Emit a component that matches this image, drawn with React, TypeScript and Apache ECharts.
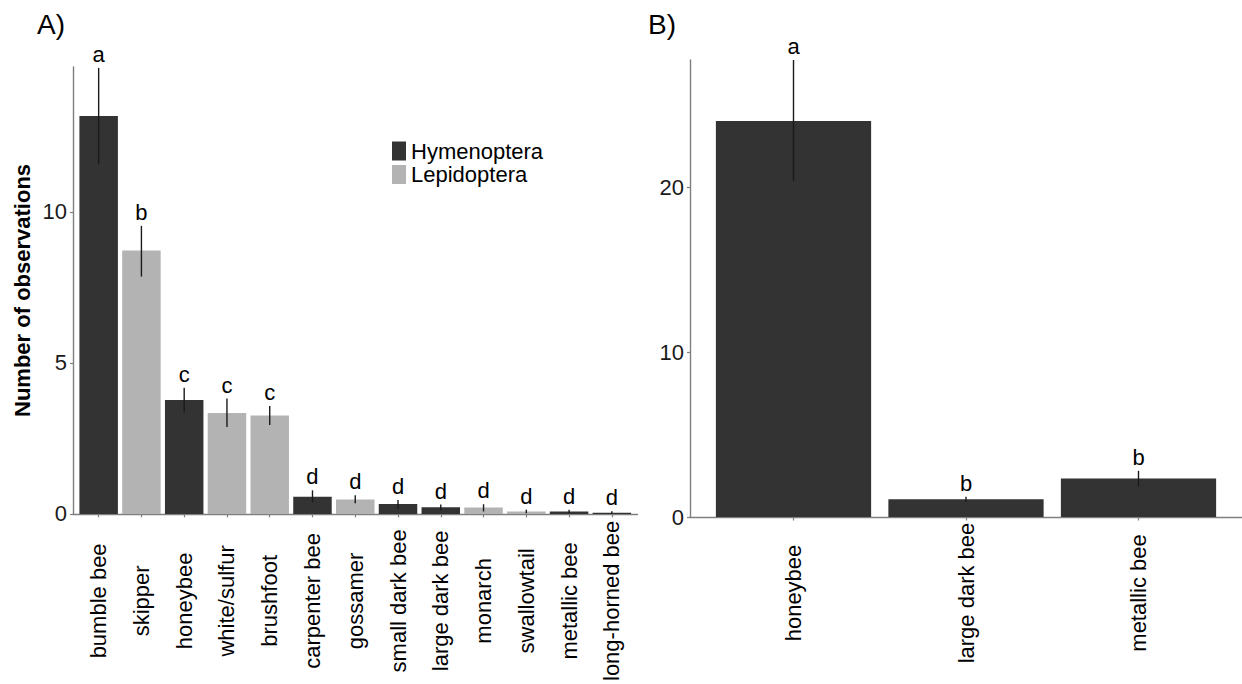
import React, { useEffect, useRef } from 'react';
import * as echarts from 'echarts';

const FONT = '"Liberation Sans", Arial, Helvetica, sans-serif';
const FS = 22;

// Panel A data
const categoriesA = ['bumble bee', 'skipper', 'honeybee', 'white/sulfur', 'brushfoot', 'carpenter bee', 'gossamer', 'small dark bee', 'large dark bee', 'monarch', 'swallowtail', 'metallic bee', 'long-horned bee'];
const orderA = ['Hymenoptera', 'Lepidoptera', 'Hymenoptera', 'Lepidoptera', 'Lepidoptera', 'Hymenoptera', 'Lepidoptera', 'Hymenoptera', 'Hymenoptera', 'Lepidoptera', 'Lepidoptera', 'Hymenoptera', 'Hymenoptera'];
const valuesA = [13.18, 8.72, 3.77, 3.34, 3.26, 0.57, 0.48, 0.33, 0.22, 0.21, 0.08, 0.08, 0.04];
const lowA = [11.58, 7.86, 3.36, 2.88, 2.94, 0.38, 0.35, 0.16, 0.11, 0.08, 0.02, 0.02, 0.0];
const highA = [14.77, 9.54, 4.18, 3.82, 3.57, 0.78, 0.62, 0.46, 0.31, 0.32, 0.14, 0.14, 0.09];
const lettersA = ['a', 'b', 'c', 'c', 'c', 'd', 'd', 'd', 'd', 'd', 'd', 'd', 'd'];
const yTicksA = [0, 5, 10];
const yMaxA = 14.8;

// Panel B data
const categoriesB = ['honeybee', 'large dark bee', 'metallic bee'];
const valuesB = [24.0, 1.08, 2.33];
const lowB = [20.36, 0.92, 1.85];
const highB = [27.7, 1.22, 2.8];
const lettersB = ['a', 'b', 'b'];
const yTicksB = [0, 10, 20];
const yMaxB = 27.7;

const groups = ['Hymenoptera', 'Lepidoptera'];
const DARK = '#333333';
const LIGHT = '#b3b3b3';
const AXIS = '#7f7f7f';

function makeErr(letters: string[]) {
  return (params: any, api: any) => {
    const x = api.value(0);
    const lo = api.value(1);
    const hi = api.value(2);
    const pLo = api.coord([x, lo]);
    const pHi = api.coord([x, hi]);
    return {
      type: 'group',
      children: [
        { type: 'line', shape: { x1: pLo[0], y1: pLo[1], x2: pHi[0], y2: pHi[1] }, style: { stroke: '#1a1a1a', lineWidth: 1.4 } },
        { type: 'text', x: pHi[0], y: pHi[1] - 13.5, style: { text: letters[params.dataIndex], fill: '#000', fontSize: FS, fontFamily: FONT, align: 'center', verticalAlign: 'middle' } },
      ],
    };
  };
}

function xAxisFor(gridIndex: number, cats: string[], margin: number) {
  const idx = cats.map((_, i) => i);
  return {
    type: 'value',
    gridIndex,
    min: -0.6,
    max: cats.length - 1 + 0.6,
    axisLine: { show: true, onZero: false, lineStyle: { color: AXIS, width: 1.4 } },
    axisTick: { show: true, length: 3.5, customValues: idx, lineStyle: { color: AXIS, width: 1.2 } },
    axisLabel: {
      customValues: idx,
      formatter: (v: number) => cats[Math.round(v)] ?? '',
      rotate: 90,
      align: 'center',
      verticalAlign: 'middle',
      margin,
      fontSize: FS,
      color: '#000',
      fontFamily: FONT,
    },
    splitLine: { show: false },
  };
}

function yAxisFor(gridIndex: number, max: number, ticks: number[], interval: number, name: string) {
  return {
    type: 'value',
    gridIndex,
    min: 0,
    max,
    interval,
    name,
    nameLocation: 'middle',
    nameGap: 40,
    nameRotate: 90,
    nameTextStyle: { fontWeight: 'bold', fontSize: FS, color: '#000', fontFamily: FONT },
    axisLine: { show: true, onZero: false, lineStyle: { color: AXIS, width: 1.4 } },
    axisTick: { show: true, length: 3, customValues: ticks, lineStyle: { color: AXIS, width: 1.2 } },
    axisLabel: { customValues: ticks, margin: 6, fontSize: FS, color: '#1a1a1a', fontFamily: FONT },
    splitLine: { show: false },
  };
}

export default function App() {
  const ref = useRef<HTMLDivElement>(null);
  useEffect(() => {
    if (!ref.current) return;
    const chart = echarts.init(ref.current, null, { renderer: 'svg' });
    const groupSeries = groups.map((g, gi) => ({
      name: g,
      type: 'bar',
      xAxisIndex: 0,
      yAxisIndex: 0,
      barWidth: '90%',
      barGap: '-100%',
      itemStyle: { color: gi === 0 ? DARK : LIGHT },
      data: categoriesA.map((_, i) => i).filter((i) => orderA[i] === g).map((i) => [i, valuesA[i]]),
      z: 2,
    }));
    chart.setOption({
      animation: false,
      textStyle: { fontFamily: FONT },
      grid: [
        { left: 73, top: 67, width: 564.5, height: 450, containLabel: false },
        { left: 690, top: 60, width: 553, height: 457, containLabel: false },
      ],
      legend: {
        data: groups,
        left: 392,
        top: 140,
        orient: 'vertical',
        icon: 'rect',
        itemWidth: 14,
        itemHeight: 19,
        itemGap: 1.5,
        padding: 0,
        selectedMode: false,
        textStyle: { fontSize: FS, color: '#000', fontFamily: FONT, lineHeight: 19 },
      },
      xAxis: [xAxisFor(0, categoriesA, 87), xAxisFor(1, categoriesB, 76)],
      yAxis: [
        yAxisFor(0, yMaxA, yTicksA, 5, 'Number of observations'),
        yAxisFor(1, yMaxB, yTicksB, 10, ''),
      ],
      graphic: [
        { type: 'text', x: 37, y: 24, style: { text: 'A)', fontSize: 28, fill: '#000', fontFamily: FONT, verticalAlign: 'middle' } },
        { type: 'text', x: 648, y: 24, style: { text: 'B)', fontSize: 28, fill: '#000', fontFamily: FONT, verticalAlign: 'middle' } },
      ],
      series: [
        ...groupSeries,
        {
          name: 'B',
          type: 'bar',
          xAxisIndex: 1,
          yAxisIndex: 1,
          barWidth: '90%',
          itemStyle: { color: DARK },
          data: categoriesB.map((_, i) => [i, valuesB[i]]),
          z: 2,
        },
        {
          type: 'custom',
          xAxisIndex: 0,
          yAxisIndex: 0,
          clip: false,
          z: 5,
          encode: { x: 0, y: [1, 2] },
          renderItem: makeErr(lettersA),
          data: categoriesA.map((_, i) => [i, lowA[i], highA[i]]),
        },
        {
          type: 'custom',
          xAxisIndex: 1,
          yAxisIndex: 1,
          clip: false,
          z: 5,
          encode: { x: 0, y: [1, 2] },
          renderItem: makeErr(lettersB),
          data: categoriesB.map((_, i) => [i, lowB[i], highB[i]]),
        },
      ],
    });
    return () => chart.dispose();
  }, []);
  return <div ref={ref} style={{ position: 'absolute', left: 0, top: 0, width: 1242, height: 684 }} />;
}
